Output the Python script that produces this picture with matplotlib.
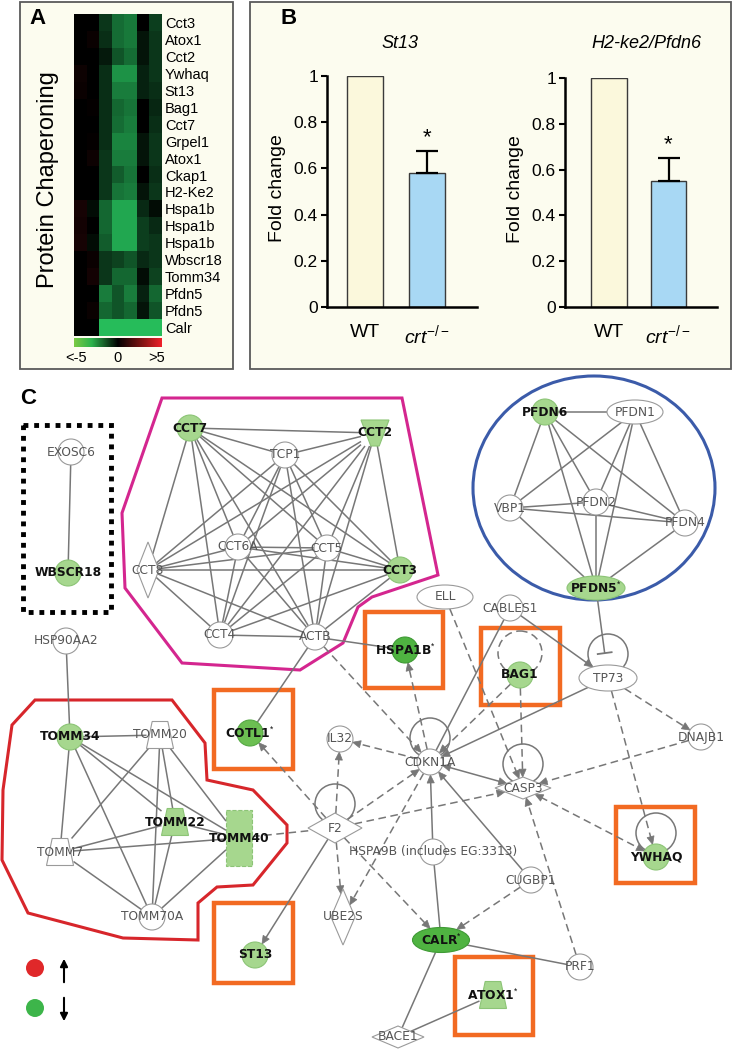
import numpy as np
import matplotlib
matplotlib.use('Agg')
import matplotlib.pyplot as plt
from matplotlib.patches import Rectangle, Circle, Ellipse, Polygon
from matplotlib.colors import LinearSegmentedColormap, Normalize
from matplotlib.cm import ScalarMappable
from itertools import combinations

plt.rcParams['font.family'] = ['Liberation Sans', 'DejaVu Sans']
plt.rcParams['mathtext.fontset'] = 'custom'
plt.rcParams['mathtext.rm'] = 'Liberation Sans'
plt.rcParams['mathtext.it'] = 'Liberation Sans:italic'

# ---------------- data: panel A heatmap ----------------
genes = ['Cct3', 'Atox1', 'Cct2', 'Ywhaq', 'St13', 'Bag1', 'Cct7', 'Grpel1', 'Atox1',
         'Ckap1', 'H2-Ke2', 'Hspa1b', 'Hspa1b', 'Hspa1b', 'Wbscr18', 'Tomm34',
         'Pfdn5', 'Pfdn5', 'Calr']
heat_values = [
    [0.0, 0.0, -1.3, -2.6, -2.9, 0.0, -1.5],
    [0.0, 0.2, -1.1, -2.6, -2.9, -0.5, -1.3],
    [0.0, 0.0, -0.6, -2.0, -2.6, -0.5, -1.3],
    [0.3, 0.0, -1.1, -3.5, -3.5, -0.8, -1.3],
    [0.2, 0.0, -1.1, -3.0, -3.0, -0.8, -1.1],
    [0.0, 0.1, -1.1, -2.5, -2.8, 0.0, -0.9],
    [0.0, 0.0, -1.1, -2.6, -3.0, 0.0, -1.1],
    [0.0, 0.1, -1.1, -3.2, -3.2, -0.5, -1.3],
    [0.0, 0.3, -1.3, -3.0, -3.0, -0.5, -1.3],
    [0.0, 0.0, -1.3, -2.2, -2.8, 0.0, -1.1],
    [0.0, 0.0, -1.3, -2.8, -3.0, -0.5, -1.3],
    [0.5, -0.3, -2.5, -4.0, -4.0, -1.0, -0.3],
    [0.4, 0.0, -2.5, -4.0, -4.0, -1.5, -1.0],
    [0.5, -0.3, -2.2, -4.0, -4.0, -1.5, -1.3],
    [0.0, 0.2, -1.3, -1.6, -2.0, -1.0, -1.3],
    [0.0, 0.4, -1.3, -2.5, -2.5, -0.3, -1.6],
    [0.0, 0.0, -3.0, -2.0, -3.0, -0.8, -2.5],
    [0.0, 0.2, -2.5, -2.0, -2.5, -0.5, -2.0],
    [0.0, 0.0, -4.5, -4.5, -4.5, -4.5, -4.5],
]
scale_labels = ['<-5', '0', '>5']

# ---------------- data: panel B bars ----------------
groups = ['WT', r'$\mathit{crt}^{-/-}$']
st13_fold = [1.0, 0.58]
st13_err = [0.0, 0.095]
pfdn6_fold = [1.0, 0.55]
pfdn6_err = [0.0, 0.10]
y_ticks = [0, 0.2, 0.4, 0.6, 0.8, 1.0]
y_ticklabels = ['0', '0.2', '0.4', '0.6', '0.8', '1']

# ---------------- data: panel C network ----------------
down_light = ['WBSCR18', 'CCT7', 'CCT2', 'CCT3', 'PFDN6', 'PFDN5', 'BAG1', 'TOMM34',
              'TOMM22', 'TOMM40', 'ST13', 'YWHAQ', 'ATOX1']
down_strong = ['HSPA1B', 'CALR', 'COTL1']
starred = ['PFDN5', 'HSPA1B', 'COTL1', 'CALR', 'ATOX1']
cct_complex = ['CCT7', 'TCP1', 'CCT2', 'CCT6A', 'CCT5', 'CCT8', 'CCT3', 'CCT4', 'ACTB']
pfdn_complex = ['PFDN6', 'PFDN1', 'VBP1', 'PFDN2', 'PFDN4', 'PFDN5']
tomm_complex = ['TOMM34', 'TOMM20', 'TOMM22', 'TOMM40', 'TOMM7', 'TOMM70A']
other_edges = [
    ('EXOSC6', 'WBSCR18', '-', None), ('HSP90AA2', 'TOMM34', '-', None),
    ('ACTB', 'HSPA1B', '-', None), ('ACTB', 'COTL1', '-', None),
    ('ACTB', 'CDKN1A', '--', 'end'), ('TOMM40', 'F2', '--', None),
    ('F2', 'COTL1', '--', 'end'), ('F2', 'IL32', '--', 'end'),
    ('F2', 'ST13', '-', 'end'), ('F2', 'UBE2S', '--', 'end'),
    ('F2', 'CDKN1A', '--', 'end'), ('F2', 'CASP3', '--', 'end'),
    ('F2', 'CALR', '--', 'end'), ('CDKN1A', 'IL32', '--', 'end'),
    ('CDKN1A', 'UBE2S', '--', 'end'), ('CDKN1A', 'CASP3', '-', 'both'),
    ('CDKN1A', 'HSPA1B', '--', 'end'), ('HSPA9B', 'CDKN1A', '-', 'end'),
    ('HSPA9B', 'CALR', '-', None), ('CUGBP1', 'CDKN1A', '-', 'end'),
    ('CUGBP1', 'CALR', '--', 'end'), ('CALR', 'PRF1', '-', None),
    ('PRF1', 'CASP3', '--', 'end'), ('CALR', 'BACE1', '-', None),
    ('BACE1', 'ATOX1', '-', None), ('CASP3', 'YWHAQ', '--', 'both'),
    ('DNAJB1', 'CASP3', '--', 'end'), ('TP73', 'DNAJB1', '--', 'end'),
    ('TP73', 'CDKN1A', '-', 'end'), ('TP73', 'YWHAQ', '--', 'end'),
    ('CABLES1', 'TP73', '-', 'end'), ('CABLES1', 'CDKN1A', '-', None),
    ('BAG1', 'CASP3', '--', 'end'), ('BAG1', 'CDKN1A', '--', 'end'),
    ('ELL', 'CASP3', '--', 'end'), ('PFDN5', 'TP73', '-', 'inhibit'),
]
self_loops = ['F2', 'CDKN1A', 'CASP3', 'TP73', 'YWHAQ']
dashed_loops = ['BAG1']
highlighted = ['COTL1', 'HSPA1B', 'BAG1', 'YWHAQ', 'ST13', 'ATOX1']

# ---------------- layout (pixel space of the 733x1050 canvas) ----------------
W, H = 733, 1050
layout = {
    'EXOSC6': (71, 452, 'circle', 26, 26), 'WBSCR18': (68, 573, 'circle', 26, 26),
    'HSP90AA2': (66, 641, 'circle', 26, 26),
    'CCT7': (190, 428, 'circle', 26, 26), 'TCP1': (285, 455, 'circle', 26, 26),
    'CCT2': (375, 433, 'invtrap', 28, 26), 'CCT6A': (238, 547, 'circle', 26, 26),
    'CCT5': (327, 548, 'circle', 26, 26), 'CCT8': (148, 570, 'diamond', 22, 56),
    'CCT3': (400, 570, 'circle', 26, 26), 'CCT4': (220, 635, 'circle', 26, 26),
    'ACTB': (315, 637, 'circle', 26, 26),
    'PFDN6': (545, 412, 'circle', 26, 26), 'PFDN1': (635, 412, 'ellipse', 56, 24),
    'VBP1': (510, 508, 'circle', 26, 26), 'PFDN2': (596, 502, 'circle', 26, 26),
    'PFDN4': (685, 523, 'circle', 26, 26), 'PFDN5': (596, 588, 'ellipse', 58, 24),
    'ELL': (445, 597, 'ellipse', 56, 24), 'CABLES1': (510, 608, 'circle', 26, 26),
    'TP73': (608, 678, 'ellipse', 58, 26), 'HSPA1B': (405, 650, 'circle', 26, 26),
    'BAG1': (520, 675, 'circle', 26, 26),
    'TOMM34': (70, 737, 'circle', 26, 26), 'TOMM20': (160, 735, 'trap', 27, 27),
    'TOMM22': (175, 822, 'trap', 27, 27), 'TOMM40': (239, 838, 'rect', 26, 56),
    'TOMM7': (60, 852, 'trap', 27, 27), 'TOMM70A': (152, 917, 'circle', 26, 26),
    'COTL1': (250, 733, 'circle', 26, 26), 'IL32': (340, 739, 'circle', 26, 26),
    'F2': (335, 828, 'diamond', 54, 30), 'ST13': (255, 955, 'circle', 26, 26),
    'UBE2S': (343, 917, 'diamond', 24, 56), 'CDKN1A': (430, 762, 'circle', 26, 26),
    'CASP3': (523, 788, 'diamond', 56, 22), 'DNAJB1': (701, 737, 'circle', 26, 26),
    'YWHAQ': (656, 857, 'circle', 26, 26), 'HSPA9B': (433, 852, 'circle', 26, 26),
    'CUGBP1': (531, 880, 'circle', 26, 26), 'CALR': (441, 940, 'ellipse', 57, 25),
    'PRF1': (580, 967, 'circle', 26, 26), 'ATOX1': (493, 995, 'trap', 27, 27),
    'BACE1': (398, 1037, 'diamond', 52, 22),
}
node_labels = {'HSPA9B': 'HSPA9B (includes EG:3313)'}
highlight_boxes = {
    'COTL1': (214, 690, 293, 769), 'HSPA1B': (365, 612, 443, 688),
    'BAG1': (481, 628, 560, 705), 'YWHAQ': (616, 807, 695, 883),
    'ST13': (214, 903, 293, 983), 'ATOX1': (455, 957, 533, 1035),
}
magenta_poly = [(162, 398), (402, 398), (438, 575), (372, 597), (358, 607), (343, 643),
                (300, 670), (182, 663), (125, 588), (122, 513)]
red_poly = [(35, 700), (172, 700), (205, 743), (207, 780), (253, 790), (287, 825),
            (287, 843), (253, 885), (217, 887), (198, 903), (198, 940), (123, 938),
            (28, 913), (2, 860), (3, 790), (12, 725)]

fig = plt.figure(figsize=(W / 100, H / 100), dpi=100)


def fbox(x0, y0, x1, y1):
    return [x0 / W, 1 - y1 / H, (x1 - x0) / W, (y1 - y0) / H]


bg = fig.add_axes([0, 0, 1, 1])
bg.set_xlim(0, W)
bg.set_ylim(H, 0)
bg.axis('off')

panel_bg = '#fcfcef'
for (x0, y0, x1, y1) in [(20, 2, 233, 369), (250, 2, 731, 369)]:
    bg.add_patch(Rectangle((x0, y0), x1 - x0, y1 - y0, facecolor=panel_bg,
                           edgecolor='#5a5a5a', lw=1.3, zorder=0))

bg.text(37, 18, 'A', fontsize=16, weight='bold', ha='center', va='center')
bg.text(289, 18, 'B', fontsize=16, weight='bold', ha='center', va='center')
bg.text(28, 398, 'C', fontsize=16, weight='bold', ha='center', va='center')

# ---------------- Panel A ----------------
heat_cmap = LinearSegmentedColormap.from_list(
    'heat', [(0, '#2ad064'), (0.5, '#000000'), (1, '#e8242c')])
axh = fig.add_axes(fbox(74, 14, 162, 336))
axh.imshow(np.array(heat_values), cmap=heat_cmap, vmin=-5, vmax=5, aspect='auto',
           interpolation='nearest')
axh.set_xticks([])
axh.set_yticks(range(len(genes)))
axh.set_yticklabels(genes)
axh.yaxis.tick_right()
axh.tick_params(axis='y', length=0, pad=2, labelsize=10.5)
for s in axh.spines.values():
    s.set_visible(False)

bg.text(48, 180, 'Protein Chaperoning', rotation=90, fontsize=17, ha='center',
        va='center')

cbar_cmap = LinearSegmentedColormap.from_list(
    'scale', [(0, '#7ac943'), (0.2, '#2bb24c'), (0.5, '#000000'),
              (0.8, '#8b1515'), (1, '#f0202a')])
axc = fig.add_axes(fbox(74, 338, 162, 347))
cb = fig.colorbar(ScalarMappable(norm=Normalize(-5, 5), cmap=cbar_cmap), cax=axc,
                  orientation='horizontal')
cb.set_ticks([])
cb.outline.set_visible(False)
for lab, x in zip(scale_labels, [76, 118, 157]):
    bg.text(x, 358, lab, fontsize=10.5, ha='center', va='center')

# ---------------- Panel B ----------------
wt_color = '#fbf8dc'
ko_color = '#a8d8f4'


def bar_panel(box, xlim, width, vals, errs, title, title_x, ylab_x):
    ax = fig.add_axes(fbox(*box))
    ax.patch.set_alpha(0)
    x = np.arange(len(vals))
    ax.bar(x, vals, width=width, color=[wt_color, ko_color], edgecolor='#3a3a3a',
           lw=1.0, zorder=2)
    ax.errorbar(x[1], vals[1], yerr=[[0], [errs[1]]], fmt='none', ecolor='black',
                elinewidth=1.6, capsize=8, capthick=1.6, zorder=3)
    ax.annotate('*', xy=(x[1], vals[1] + errs[1]), xytext=(0, 2),
                textcoords='offset points', ha='center', va='bottom', fontsize=16)
    ax.set_xlim(*xlim)
    ax.set_ylim(0, 1)
    ax.set_yticks(y_ticks)
    ax.set_yticklabels(y_ticklabels)
    ax.set_xticks(x)
    ax.set_xticklabels(groups, fontsize=14)
    ax.tick_params(axis='x', length=0, pad=12)
    ax.tick_params(axis='y', length=4.5, width=1.5, labelsize=12.5, pad=2)
    for s in ['top', 'right']:
        ax.spines[s].set_visible(False)
    for s in ['left', 'bottom']:
        ax.spines[s].set_linewidth(1.8)
    bg.text(title_x, 43, title, fontsize=13, style='italic', ha='center', va='center')
    bg.text(ylab_x, (box[1] + box[3]) / 2 - 3, 'Fold change', rotation=90, fontsize=14,
            ha='center', va='center')
    return ax


bar_panel((327, 76, 477, 307), (-0.613, 1.806), 0.58, st13_fold, st13_err,
          'St13', 400, 278)
bar_panel((565, 78, 717, 307), (-0.74, 1.815), 0.60, pfdn6_fold, pfdn6_err,
          'H2-ke2/Pfdn6', 646, 516)

# ---------------- Panel C network ----------------
line_c = '#777777'
bg.add_patch(Polygon(magenta_poly, closed=True, fill=False, edgecolor='#d4268f',
                     lw=2.2, zorder=1))
bg.add_patch(Polygon(red_poly, closed=True, fill=False, edgecolor='#d7262b',
                     lw=2.2, zorder=1))
bg.add_patch(Ellipse((594, 488), 242, 224, fill=False, edgecolor='#3b5ba9',
                     lw=2.2, zorder=1))
bg.add_patch(Rectangle((23, 425), 88, 187, fill=False, edgecolor='black', lw=3.5,
                       linestyle=(0, (1, 1.2)), zorder=1))
for name in highlighted:
    x0, y0, x1, y1 = highlight_boxes[name]
    bg.add_patch(Rectangle((x0, y0), x1 - x0, y1 - y0, fill=False,
                           edgecolor='#f26a22', lw=3.2, zorder=1.5))


def boundary(name, ux, uy):
    _, _, shape, w, h = layout[name]
    a, b = w / 2.0, h / 2.0
    if shape in ('circle', 'ellipse'):
        return 1.0 / np.sqrt((ux / a) ** 2 + (uy / b) ** 2)
    if shape == 'diamond':
        return 1.0 / (abs(ux) / a + abs(uy) / b)
    ra = a / abs(ux) if abs(ux) > 1e-9 else 1e9
    rb = b / abs(uy) if abs(uy) > 1e-9 else 1e9
    return min(ra, rb)


def head(px, py, ux, uy, L=8.0, hw=3.6):
    bx, by = px - ux * L, py - uy * L
    nx, ny = -uy, ux
    bg.add_patch(Polygon([(px, py), (bx + nx * hw, by + ny * hw),
                          (bx - nx * hw, by - ny * hw)], closed=True,
                         facecolor=line_c, edgecolor=line_c, lw=0.5, zorder=2.5))


def draw_edge(a, b, style, kind):
    x1, y1 = layout[a][:2]
    x2, y2 = layout[b][:2]
    d = np.hypot(x2 - x1, y2 - y1)
    ux, uy = (x2 - x1) / d, (y2 - y1) / d
    sa = boundary(a, ux, uy)
    sb = boundary(b, -ux, -uy)
    p1 = [x1 + ux * sa, y1 + uy * sa]
    p2 = [x2 - ux * sb, y2 - uy * sb]
    q1, q2 = list(p1), list(p2)
    if kind in ('end', 'both'):
        head(p2[0], p2[1], ux, uy)
        q2 = [p2[0] - ux * 6, p2[1] - uy * 6]
    if kind == 'both':
        head(p1[0], p1[1], -ux, -uy)
        q1 = [p1[0] + ux * 6, p1[1] + uy * 6]
    if kind == 'inhibit':
        q2 = [p2[0] - ux * 12, p2[1] - uy * 12]
        nx, ny = -uy, ux
        bg.plot([q2[0] - nx * 7, q2[0] + nx * 7], [q2[1] - ny * 7, q2[1] + ny * 7],
                color=line_c, lw=1.3, zorder=2)
    ls = '-' if style == '-' else (0, (5, 3))
    bg.plot([q1[0], q2[0]], [q1[1], q2[1]], color=line_c, lw=1.1, ls=ls, zorder=2,
            solid_capstyle='butt')


for group in (cct_complex, pfdn_complex, tomm_complex):
    for a, b in combinations(group, 2):
        draw_edge(a, b, '-', None)
for a, b, st, kind in other_edges:
    draw_edge(a, b, st, kind)

for name in self_loops + dashed_loops:
    x, y = layout[name][:2]
    r = 22 if name in dashed_loops else 20
    off = 22 if name in dashed_loops else 24
    bg.add_patch(Circle((x, y - off), r, fill=False, edgecolor=line_c, lw=1.1,
                        linestyle=(0, (5, 3)) if name in dashed_loops else '-',
                        zorder=2))

for name, (x, y, shape, w, h) in layout.items():
    if name in down_strong:
        fc, ec = ('#6cbf52', '#56a844') if name == 'COTL1' else ('#4fb341', '#3f9a35')
    elif name in down_light:
        fc, ec = '#a6d78e', '#8cc476'
    else:
        fc, ec = 'white', '#9a9a9a'
    kw = dict(facecolor=fc, edgecolor=ec, lw=0.8, zorder=3)
    if shape == 'circle':
        p = Circle((x, y), w / 2, **kw)
    elif shape == 'ellipse':
        p = Ellipse((x, y), w, h, **kw)
    elif shape == 'diamond':
        p = Polygon([(x, y - h / 2), (x + w / 2, y), (x, y + h / 2), (x - w / 2, y)], **kw)
    elif shape == 'trap':
        p = Polygon([(x - w * 0.29, y - h / 2), (x + w * 0.29, y - h / 2),
                     (x + w / 2, y + h / 2), (x - w / 2, y + h / 2)], **kw)
    elif shape == 'invtrap':
        p = Polygon([(x - w / 2, y - h / 2), (x + w / 2, y - h / 2),
                     (x + w * 0.15, y + h / 2), (x - w * 0.15, y + h / 2)], **kw)
    else:
        p = Rectangle((x - w / 2, y - h / 2), w, h, linestyle='--', **kw)
    bg.add_patch(p)
    label = node_labels.get(name, name)
    green = name in down_light or name in down_strong
    if name in starred:
        label = label + r'$^{*}$'
    bg.text(x, y, label, fontsize=8.8, family='DejaVu Sans', ha='center',
            va='center', color='#111111' if green else '#555555',
            weight='bold' if green else 'normal', zorder=4)

# legend
bg.add_patch(Circle((35, 968), 9, facecolor='#e0282a', edgecolor='none', zorder=3))
bg.add_patch(Circle((35, 1008), 9, facecolor='#3db54a', edgecolor='none', zorder=3))
bg.annotate('', xy=(64, 956), xytext=(64, 985),
            arrowprops=dict(arrowstyle='-|>', color='black', lw=1.5, mutation_scale=11))
bg.annotate('', xy=(64, 1024), xytext=(64, 995),
            arrowprops=dict(arrowstyle='-|>', color='black', lw=1.5, mutation_scale=11))

fig.savefig('out.png', dpi=100)
